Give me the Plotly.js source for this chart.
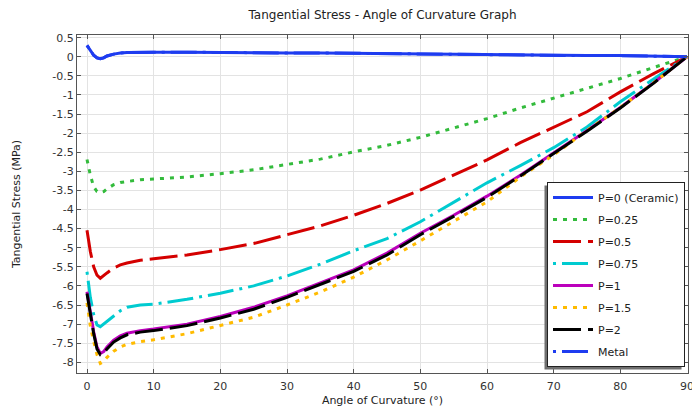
<!DOCTYPE html>
<html>
<head>
<meta charset="utf-8">
<script src="https://cdn.plot.ly/plotly-3.0.1.min.js"></script>
<style>
  html, body { margin: 0; padding: 0; background: #ffffff; }
  #chart { width: 692px; height: 410px; }
</style>
</head>
<body>
<div id="chart"></div>
<script>
// Angle of curvature (degrees) shared by every series
const angle = [0, 0.5, 1, 1.5, 2, 2.5, 3, 4, 5, 6, 8, 10, 15, 20, 25, 30, 35, 40, 45, 50, 55, 60, 65, 70, 75, 80, 85, 90];

// Tangential stress (MPa) for each gradient index
const stressCeramic = [0.30, 0.18, 0.04, -0.03, -0.05, -0.03, 0.02, 0.07, 0.10, 0.11, 0.12, 0.12, 0.12, 0.11, 0.11, 0.10, 0.10, 0.09, 0.08, 0.07, 0.06, 0.06, 0.05, 0.04, 0.03, 0.03, 0.02, 0.00];
const stressP025 = [-2.69, -3.10, -3.40, -3.53, -3.56, -3.53, -3.46, -3.35, -3.29, -3.26, -3.22, -3.20, -3.15, -3.06, -2.96, -2.82, -2.68, -2.49, -2.32, -2.11, -1.87, -1.62, -1.34, -1.08, -0.84, -0.57, -0.28, 0.00];
const stressP05 = [-4.54, -5.10, -5.50, -5.72, -5.80, -5.74, -5.66, -5.53, -5.45, -5.40, -5.33, -5.29, -5.19, -5.05, -4.89, -4.66, -4.43, -4.15, -3.84, -3.49, -3.09, -2.70, -2.25, -1.84, -1.44, -0.92, -0.44, 0.00];
const stressP075 = [-5.63, -6.30, -6.75, -7.02, -7.07, -7.00, -6.92, -6.78, -6.65, -6.56, -6.50, -6.48, -6.35, -6.19, -6.00, -5.74, -5.43, -5.08, -4.76, -4.32, -3.80, -3.30, -2.85, -2.38, -1.84, -1.18, -0.58, 0.00];
const stressP1 = [-6.15, -6.70, -7.20, -7.60, -7.77, -7.72, -7.60, -7.42, -7.31, -7.24, -7.17, -7.13, -7.00, -6.80, -6.56, -6.26, -5.93, -5.58, -5.14, -4.62, -4.15, -3.65, -3.10, -2.52, -1.93, -1.33, -0.68, 0.00];
const stressP15 = [-6.44, -7.05, -7.45, -7.80, -8.03, -7.98, -7.87, -7.71, -7.60, -7.53, -7.46, -7.41, -7.25, -7.04, -6.82, -6.50, -6.16, -5.77, -5.32, -4.82, -4.32, -3.80, -3.15, -2.57, -1.93, -1.33, -0.68, 0.00];
const stressP2 = [-6.20, -6.75, -7.25, -7.65, -7.80, -7.76, -7.65, -7.47, -7.36, -7.28, -7.21, -7.17, -7.04, -6.84, -6.61, -6.30, -5.97, -5.62, -5.19, -4.66, -4.18, -3.68, -3.12, -2.54, -1.95, -1.34, -0.69, 0.00];
const stressMetal = [0.30, 0.18, 0.04, -0.03, -0.05, -0.03, 0.02, 0.07, 0.10, 0.11, 0.12, 0.12, 0.12, 0.11, 0.11, 0.10, 0.10, 0.09, 0.08, 0.07, 0.06, 0.06, 0.05, 0.04, 0.03, 0.03, 0.02, 0.00];

const seriesNames = ['P=0 (Ceramic)', 'P=0.25', 'P=0.5', 'P=0.75', 'P=1', 'P=1.5', 'P=2', 'Metal'];
const seriesValues = [stressCeramic, stressP025, stressP05, stressP075, stressP1, stressP15, stressP2, stressMetal];

// Axis ticks
const xTickVals = [0, 10, 20, 30, 40, 50, 60, 70, 80, 90];
const xTickText = ['0', '10', '20', '30', '40', '50', '60', '70', '80', '90'];
const yTickVals = [0.5, 0, -0.5, -1, -1.5, -2, -2.5, -3, -3.5, -4, -4.5, -5, -5.5, -6, -6.5, -7, -7.5, -8];
const yTickText = ['0.5', '0', '-0.5', '-1', '-1.5', '-2', '-2.5', '-3', '-3.5', '-4', '-4.5', '-5', '-5.5', '-6', '-6.5', '-7', '-7.5', '-8'];

// Line styles, one per series
const styles = [
  { color: '#1e3cf0', dash: 'solid' },
  { color: '#33bb3c', dash: '4px,6px' },
  { color: '#d40000', dash: '28px,7px' },
  { color: '#00cbd0', dash: '3px,6px,26px,6px' },
  { color: '#bb00bb', dash: 'solid' },
  { color: '#ffbb00', dash: '4px,6px' },
  { color: '#000000', dash: '28px,7px' },
  { color: '#1e3cf0', dash: '3px,6px,26px,6px' }
];

const W = 692, H = 410;
const M = { l: 77, r: 4, t: 35, b: 37 };
const plotW = W - M.l - M.r, plotH = H - M.t - M.b;
const paperX = px => (px - M.l) / plotW;
const paperY = py => (H - M.b - py) / plotH;

const FONT = 'DejaVu Sans, Verdana, sans-serif';

const traces = seriesNames.map((name, i) => ({
  type: 'scatter',
  mode: 'lines',
  name: name,
  x: angle,
  y: seriesValues[i],
  legendgroup: 'g' + i,
  line: { color: styles[i].color, width: 3, dash: styles[i].dash }
}));

const legendLeft = 547, legendTop = 182;
const shadowOffset = 3;

const layout = {
  width: W,
  height: H,
  margin: M,
  paper_bgcolor: '#ffffff',
  plot_bgcolor: '#ffffff',
  font: { family: FONT, size: 11, color: '#333333' },
  title: {
    text: 'Tangential Stress - Angle of Curvature Graph',
    font: { family: FONT, size: 12, color: '#222222' },
    x: 0.5, xref: 'paper', xanchor: 'center',
    y: 1 - 15 / H, yref: 'container', yanchor: 'middle'
  },
  xaxis: {
    range: [-1.5, 90.15],
    tickmode: 'array', tickvals: xTickVals, ticktext: xTickText,
    ticks: 'inside', ticklen: 4, tickcolor: '#555555',
    ticklabeloverflow: 'allow', ticklabelstandoff: 3,
    showline: true, linecolor: '#555555', linewidth: 1, mirror: 'ticks',
    showgrid: true, gridcolor: '#e3e3e3', gridwidth: 1,
    zeroline: false,
    tickfont: { family: FONT, size: 11, color: '#333333' },
    title: { text: 'Angle of Curvature (°)', font: { family: FONT, size: 11, color: '#222222' }, standoff: 4 }
  },
  yaxis: {
    range: [-8.28, 0.57],
    tickmode: 'array', tickvals: yTickVals, ticktext: yTickText,
    ticks: 'inside', ticklen: 4, tickcolor: '#555555',
    showline: true, linecolor: '#555555', linewidth: 1, mirror: 'ticks',
    showgrid: true, gridcolor: '#e3e3e3', gridwidth: 1,
    zeroline: false,
    tickfont: { family: FONT, size: 11, color: '#333333' },
    title: { text: 'Tangential Stress (MPa)', font: { family: FONT, size: 11, color: '#222222' }, standoff: 29 }
  },
  legend: {
    x: paperX(legendLeft), y: paperY(legendTop),
    xanchor: 'left', yanchor: 'top',
    bgcolor: '#ffffff', bordercolor: '#222222', borderwidth: 1,
    font: { family: FONT, size: 11, color: '#222222' },
    itemwidth: 40,
    tracegroupgap: 3,
    traceorder: 'grouped'
  },
  shapes: [],
  showlegend: true
};

Plotly.newPlot('chart', traces, layout, { displayModeBar: false, staticPlot: true }).then(gd => {
  // drop shadow offset down-left from the rendered legend box
  const bg = gd.querySelector('.legend .bg');
  if (!bg) return;
  const r = bg.getBoundingClientRect();
  const host = gd.getBoundingClientRect();
  const x0 = r.left - host.left - shadowOffset, x1 = r.right - host.left - shadowOffset;
  const y0 = r.top - host.top + shadowOffset, y1 = r.bottom - host.top + shadowOffset;
  return Plotly.relayout(gd, {
    shapes: [{
      type: 'rect', xref: 'paper', yref: 'paper', layer: 'above',
      x0: paperX(x0), x1: paperX(x1), y0: paperY(y1), y1: paperY(y0),
      fillcolor: '#6f6f6f', line: { width: 0 }
    }]
  });
});
</script>
</body>
</html>
